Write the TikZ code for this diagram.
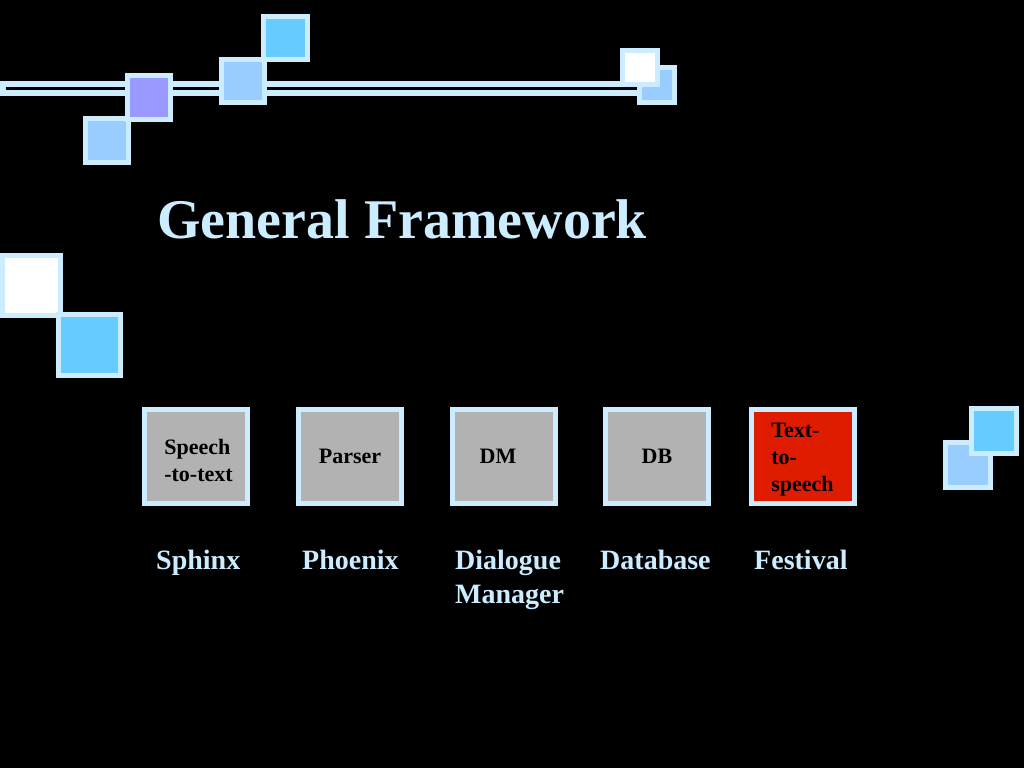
\documentclass[tikz,border=0pt]{standalone}
\usepackage{fontspec}
\setmainfont{Liberation Serif}
\definecolor{cadre}{HTML}{CCECFF}
\definecolor{bleuclair}{HTML}{99CCFF}
\definecolor{bleu}{HTML}{66CCFF}
\definecolor{violet}{HTML}{9999FF}
\definecolor{gris}{HTML}{B2B2B2}
\definecolor{rouge}{RGB}{224,28,0}
\begin{document}
\begin{tikzpicture}[x=1pt, y=-1pt,
  carre/.style={draw=cadre, line width=5pt},
  boite/.style={draw=cadre, line width=5pt, fill=gris, minimum width=103pt,
    minimum height=94pt, inner sep=0pt, align=left,
    font=\fontsize{22}{27}\selectfont\bfseries},
  legende/.style={text=cadre, inner sep=0pt, align=left,
    font=\fontsize{28}{34}\selectfont\bfseries}]
\fill[black] (0,0) rectangle (1024,768); % fond
\useasboundingbox (0,0) rectangle (1024,768);
%
\draw[cadre, line width=6pt] (3,84) rectangle (640,93); % double trait
\filldraw[carre, fill=bleuclair] (85.5,118.5) rectangle (128.5,162.5);
\filldraw[carre, fill=violet] (127.5,75.5) rectangle (170.5,119.5);
\filldraw[carre, fill=bleuclair] (221.5,59.5) rectangle (264.5,102.5);
\filldraw[carre, fill=bleu] (263.5,16.5) rectangle (307.5,59.5);
\filldraw[carre, fill=bleuclair] (639.5,67.5) rectangle (674.5,102.5);
\filldraw[carre, fill=white] (622.5,50.5) rectangle (657.5,84.5);
\filldraw[carre, fill=white] (2.5,255.5) rectangle (60.5,315.5); % carres gauche
\filldraw[carre, fill=bleu] (58.5,314.5) rectangle (120.5,375.5);
\filldraw[carre, fill=bleuclair] (945.5,442.5) rectangle (990.5,487.5); % carres droite
\filldraw[carre, fill=bleu] (971.5,408.5) rectangle (1016.5,453.5);
%
\node[anchor=base west, inner sep=0pt, text=cadre,
  font=\fontsize{56}{60}\selectfont\bfseries] (titre) at (157,238) {General Framework};
%
\node[boite, text height=50pt] (stt) at (196,456.5) {\hspace*{5pt}Speech\\\hspace*{5pt}-to-text};
\node[boite] (parser) at (350,456.5) {Parser};
\node[boite] (dm) at (503.5,456.5) {DM\hspace*{11pt}};
\node[boite] (db) at (657,456.5) {DB};
\node[boite, fill=rouge, text height=75pt] (tts) at (802.5,456.5) {Text-\\to-\\speech};
%
\node[legende, anchor=base west] (sphinx) at (156,569) {Sphinx};
\node[legende, anchor=base west] (phoenix) at (302,569) {Phoenix};
\node[legende, anchor=base west] (manager) at (455,603) {Dialogue\\Manager};
\node[legende, anchor=base west] (database) at (600,569) {Database};
\node[legende, anchor=base west] (festival) at (754,569) {Festival};
\end{tikzpicture}
\end{document}
